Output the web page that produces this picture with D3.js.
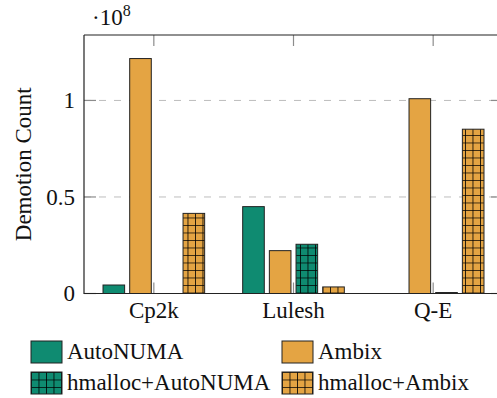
<!DOCTYPE html>
<html>
<head>
<meta charset="utf-8">
<script src="https://cdn.jsdelivr.net/npm/d3@7"></script>
<style>
  body { margin: 0; background: #fff; }
</style>
</head>
<body>
<div id="chart"></div>
<script>
// Data
const benchmarks = ["Cp2k", "Lulesh", "Q-E"]
const series = ["AutoNUMA", "Ambix", "hmalloc+AutoNUMA", "hmalloc+Ambix"]
// values in units of 10^8, null = no bar drawn
const autonuma = [0.044, 0.45, 0.0]
const ambix = [1.217, 0.222, 1.009]
const hmAutonuma = [null, 0.255, 0.005]
const hmAmbix = [0.415, 0.034, 0.851]
const yTicks = [0, 0.5, 1]
const yTickLabels = ["0", "0.5", "1"]

const values = [autonuma, ambix, hmAutonuma, hmAmbix]
const teal = "#0f8b71", orange = "#e4a443"
const fills = [teal, orange, "url(#gridTeal)", "url(#gridOrange)"]
const fontSize = 23

const width = 497, height = 398
const margin = { top: 35, left: 84, right: -6, bottom: 104.5 }
const innerTop = margin.top, innerBottom = height - margin.bottom
const innerLeft = margin.left, innerRight = width - margin.right

const svg = d3.select("#chart").append("svg")
  .attr("width", width)
  .attr("height", height)
  .attr("font-family", "Liberation Serif")

// patterns for hmalloc bars
const defs = svg.append("defs")
function makeGrid(id, color) {
  const p = defs.append("pattern")
    .attr("id", id)
    .attr("patternUnits", "userSpaceOnUse")
    .attr("width", 7.5).attr("height", 7.5)
  p.append("rect").attr("width", 7.5).attr("height", 7.5).attr("fill", color)
  p.append("path").attr("d", "M0,0H7.5M0,0V7.5")
    .attr("stroke", "#000").attr("stroke-width", 1.6)
}
makeGrid("gridTeal", teal)
makeGrid("gridOrange", orange)

// Scales
const x = d3.scaleBand()
  .domain(benchmarks)
  .range([innerLeft, innerRight])

const y = d3.scaleLinear()
  .domain([0, 1.339])
  .range([innerBottom, innerTop])

const groupSpan = 106.7
const xs = d3.scaleBand()
  .domain(series)
  .range([-groupSpan / 2, groupSpan / 2])
  .paddingInner(0.19)
  .paddingOuter(0.095)

// Grid lines
svg.append("g").selectAll("line")
  .data(yTicks.filter(d => d > 0))
  .join("line")
  .attr("x1", innerLeft).attr("x2", innerRight)
  .attr("y1", d => y(d)).attr("y2", d => y(d))
  .attr("stroke", "#bdbdbd")
  .attr("stroke-width", 1)
  .attr("stroke-dasharray", "7,8")

// Ticks (inside, gray)
const tickG = svg.append("g").attr("stroke", "#8c8c8c").attr("stroke-width", 1.2)
yTicks.forEach(t => {
  tickG.append("line").attr("x1", innerLeft).attr("x2", innerLeft + 12)
    .attr("y1", y(t)).attr("y2", y(t))
  tickG.append("line").attr("x1", innerRight).attr("x2", innerRight - 12)
    .attr("y1", y(t)).attr("y2", y(t))
})
benchmarks.forEach(b => {
  const cx = x(b) + x.bandwidth() / 2
  tickG.append("line").attr("x1", cx).attr("x2", cx)
    .attr("y1", innerTop).attr("y2", innerTop + 11)
  tickG.append("line").attr("x1", cx).attr("x2", cx)
    .attr("y1", innerBottom).attr("y2", innerBottom - 11)
})

// Bars
series.forEach((s, i) => {
  svg.append("g").selectAll("rect")
    .data(benchmarks.map((b, j) => ({ b: b, v: values[i][j] })).filter(d => d.v !== null))
    .join("rect")
    .attr("x", d => x(d.b) + x.bandwidth() / 2 + xs(s))
    .attr("width", xs.bandwidth())
    .attr("y", d => y(d.v))
    .attr("height", d => y(0) - y(d.v))
    .attr("fill", fills[i])
    .attr("stroke", "#222")
    .attr("stroke-width", 1)
})

// Axis box
svg.append("path")
  .attr("d", `M${innerLeft},${innerTop}H${innerRight}M${innerLeft},${innerTop}V${innerBottom}H${innerRight}`)
  .attr("fill", "none")
  .attr("stroke", "#222")
  .attr("stroke-width", 1.2)

// Y tick labels
svg.append("g").selectAll("text")
  .data(yTicks)
  .join("text")
  .attr("x", 75)
  .attr("y", d => y(d))
  .attr("dy", "0.33em")
  .attr("text-anchor", "end")
  .attr("font-size", fontSize)
  .attr("fill", "#111")
  .text((d, i) => yTickLabels[i])

// Exponent label
const expo = svg.append("text").attr("x", 92).attr("y", 25)
  .attr("font-size", fontSize).attr("fill", "#111")
expo.append("tspan").text("·10")
expo.append("tspan").attr("dy", -9).attr("font-size", 16).text("8")

// X labels
svg.append("g").selectAll("text")
  .data(benchmarks)
  .join("text")
  .attr("x", d => x(d) + x.bandwidth() / 2)
  .attr("y", 318)
  .attr("text-anchor", "middle")
  .attr("font-size", fontSize)
  .attr("fill", "#111")
  .text(d => d)

// Y label
svg.append("text")
  .attr("transform", `translate(31,${(innerTop + innerBottom) / 2}) rotate(-90)`)
  .attr("text-anchor", "middle")
  .attr("font-size", fontSize)
  .attr("fill", "#111")
  .text("Demotion Count")

// Legend
const legendPos = [[31, 341], [282, 341], [31, 372], [282, 372]]
series.forEach((s, i) => {
  const g = svg.append("g").attr("transform", `translate(${legendPos[i][0]},${legendPos[i][1]})`)
  g.append("rect").attr("width", 31).attr("height", 22)
    .attr("fill", fills[i]).attr("stroke", "#222").attr("stroke-width", 1)
  g.append("text").attr("x", 36).attr("y", 18).attr("font-size", fontSize)
    .attr("fill", "#111").text(s)
})
</script>
</body>
</html>
